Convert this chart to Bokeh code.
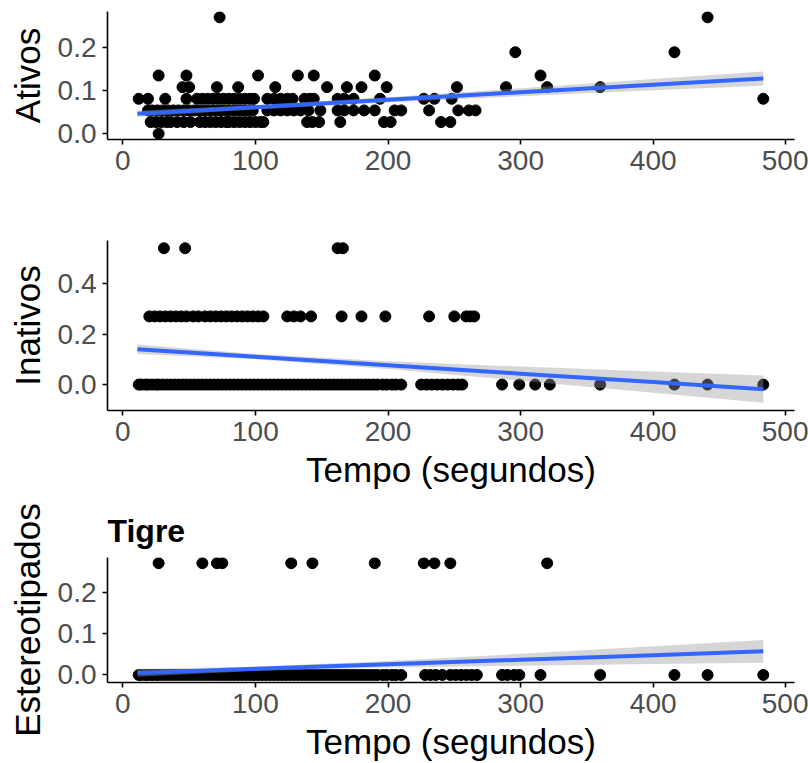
import numpy as np
from bokeh.plotting import figure
from bokeh.layouts import column
from bokeh.models import Range1d, FixedTicker, PrintfTickFormatter
from bokeh.embed import file_html
from bokeh.resources import INLINE

# ---------------- data ----------------
X_TICKS = [0, 100, 200, 300, 400, 500]
X_LABEL = "Tempo (segundos)"
TITLE_3 = "Tigre"

# Panel 1: Ativos  (tempo values grouped by y level)
ATIVOS_LEVELS = [0.0, 0.027, 0.054, 0.081, 0.108, 0.135, 0.189, 0.270]
ativos_tempo = [
    [27],
    [21, 25, 29, 33, 36, 41, 46, 51, 58, 62, 66, 70, 74, 78, 80, 84, 88, 92, 96,
     100, 104, 106, 139, 143, 148, 164, 197, 202, 240, 247],
    [19, 22, 26, 30, 34, 38, 42, 46, 50, 54, 58, 62, 66, 70, 74, 78, 82, 86, 90,
     94, 98, 109, 114, 119, 124, 129, 134, 140, 149, 162, 167, 174, 182, 190,
     205, 210, 231, 253, 261, 266],
    [12, 19, 32, 48, 56, 60, 64, 68, 72, 76, 80, 84, 88, 92, 96, 99, 109, 114,
     119, 124, 128, 137, 141, 144, 162, 167, 174, 194, 227, 235, 248, 483],
    [45, 50, 71, 87, 115, 154, 169, 180, 199, 252, 289, 320, 360],
    [27, 48, 102, 132, 144, 190, 315],
    [296, 416],
    [73, 441],
]
ATIVOS_YTICKS = [0.0, 0.1, 0.2]

# Panel 2: Inativos
INATIVOS_LEVELS = [0.0, 0.27, 0.54]
inativos_tempo = [
    [12, 14, 17, 19, 22, 25, 27, 30, 33, 36, 39, 42, 45, 48, 51, 54, 57, 60,
     63, 66, 69, 72, 75, 78, 81, 84, 87, 90, 93, 96, 99, 102, 105, 108, 111,
     114, 117, 120, 123, 126, 129, 132, 135, 138, 141, 144, 147, 150, 153, 156,
     159, 162, 165, 168, 171, 174, 177, 180, 183, 186, 189, 192, 196, 199, 203,
     206, 210, 225, 229, 233, 237, 241, 245, 249, 253, 256, 286, 299, 311, 322,
     360, 416, 441, 483],
    [20, 24, 28, 32, 36, 40, 44, 48, 53, 57, 62, 66, 70, 74, 78, 82, 86, 90, 94,
     98, 102, 106, 124, 129, 134, 142, 165, 180, 198, 231, 250, 259, 262, 265],
    [31, 47, 162, 166],
]
INATIVOS_YTICKS = [0.0, 0.2, 0.4]

# Panel 3: Estereotipados
ESTEREO_LEVELS = [0.0, 0.27]
estereo_tempo = [
    [12, 14, 17, 19, 22, 25, 27, 30, 33, 36, 39, 42, 45, 48, 51, 54, 57, 60,
     63, 66, 69, 72, 75, 78, 81, 84, 87, 90, 93, 96, 99, 102, 105, 108, 111,
     114, 117, 120, 123, 126, 129, 132, 135, 138, 141, 144, 147, 150, 153, 156,
     159, 162, 165, 168, 171, 174, 177, 180, 183, 186, 189, 192, 196, 199, 203,
     206, 210, 228, 232, 236, 241, 247, 251, 255, 259, 263, 267, 286, 290, 295,
     299, 315, 360, 416, 441, 483],
    [27, 60, 71, 75, 127, 143, 190, 227, 235, 247, 320],
]
ESTEREO_YTICKS = [0.0, 0.1, 0.2]

# Linear trend (lm) and its 95% band at these tempos
FIT_X = [11, 100, 200, 300, 400, 483]
ATIVOS_FIT = [0.046, 0.0613, 0.0787, 0.0961, 0.1136, 0.128]
ATIVOS_LO = [0.039, 0.0562, 0.0726, 0.0868, 0.1005, 0.1115]
ATIVOS_HI = [0.053, 0.0664, 0.0848, 0.1054, 0.1267, 0.1445]

INATIVOS_FIT = [0.140, 0.1105, 0.0769, 0.0434, 0.0098, -0.018]
INATIVOS_LO = [0.1214, 0.1001, 0.0615, 0.0154, -0.0322, -0.072]
INATIVOS_HI = [0.1586, 0.1209, 0.0923, 0.0714, 0.0518, 0.036]

ESTEREO_FIT = [0.005, 0.0147, 0.0258, 0.0368, 0.0478, 0.057]
ESTEREO_LO = [-0.0045, 0.0097, 0.018, 0.0225, 0.0264, 0.0295]
ESTEREO_HI = [0.0145, 0.0197, 0.0336, 0.0511, 0.0692, 0.0845]

FONT = "Liberation Sans"


def flatten(levels, groups):
    xs, ys = [], []
    for lev, g in zip(levels, groups):
        xs.extend(g)
        ys.extend([lev] * len(g))
    return np.array(xs, float), np.array(ys, float)


panels = [
    flatten(ATIVOS_LEVELS, ativos_tempo),
    flatten(INATIVOS_LEVELS, inativos_tempo),
    flatten(ESTEREO_LEVELS, estereo_tempo),
]
all_x = np.concatenate([p[0] for p in panels])
xlo, xhi = all_x.min(), all_x.max()
xpad = 0.05 * (xhi - xlo)


def make_panel(x, y, fit, lo, hi, ylabel, yticks, height, top, bottom,
               xlabel=None, title=None):
    ymin = min(y.min(), min(lo))
    ymax = max(y.max(), max(hi))
    ypad = 0.05 * (ymax - ymin)
    p = figure(width=808, height=height, output_backend="svg",
               toolbar_location=None, title=title,
               x_range=Range1d(xlo - xpad, xhi + xpad),
               y_range=Range1d(ymin - ypad, ymax + ypad),
               min_border_left=107, min_border_right=14,
               min_border_top=top, min_border_bottom=bottom)
    p.scatter(x, y, size=11, color="black")
    p.varea(x=FIT_X, y1=lo, y2=hi, fill_color="#999999", fill_alpha=0.4)
    p.line(FIT_X, fit, line_color="#3366FF", line_width=4)

    p.xgrid.visible = False
    p.ygrid.visible = False
    p.outline_line_color = None
    p.background_fill_color = "white"
    p.border_fill_color = "white"

    for ax in (p.xaxis[0], p.yaxis[0]):
        ax.axis_line_color = "black"
        ax.axis_line_width = 1.6
        ax.major_tick_line_color = "black"
        ax.major_tick_line_width = 1.6
        ax.major_tick_out = 5
        ax.major_tick_in = 0
        ax.minor_tick_line_color = None
        ax.major_label_text_font = FONT
        ax.major_label_text_font_size = "28px"
        ax.major_label_text_color = "#4D4D4D"
        ax.axis_label_text_font = FONT
        ax.axis_label_text_font_size = "35px"
        ax.axis_label_text_font_style = "normal"
        ax.axis_label_text_color = "black"
        ax.major_label_standoff = 6
    p.xaxis[0].axis_label_standoff = 6
    p.yaxis[0].axis_label_standoff = 8

    p.xaxis.ticker = FixedTicker(ticks=X_TICKS)
    p.yaxis.ticker = FixedTicker(ticks=yticks)
    p.yaxis.formatter = PrintfTickFormatter(format="%.1f")
    p.yaxis.axis_label = ylabel
    if xlabel:
        p.xaxis.axis_label = xlabel
    if title is not None:
        p.title.text_font = FONT
        p.title.text_font_size = "32px"
        p.title.text_font_style = "bold"
        p.title.text_color = "black"
        p.title.align = "left"
        p.title.offset = 0
        p.title.standoff = 18
    return p


p1 = make_panel(*panels[0], ATIVOS_FIT, ATIVOS_LO, ATIVOS_HI,
                "Ativos", ATIVOS_YTICKS, 200, 11, 61)
p2 = make_panel(*panels[1], INATIVOS_FIT, INATIVOS_LO, INATIVOS_HI,
                "Inativos", INATIVOS_YTICKS, 300, 40, 90, xlabel=X_LABEL)
p3 = make_panel(*panels[2], ESTEREO_FIT, ESTEREO_LO, ESTEREO_HI,
                "Estereotipados", ESTEREO_YTICKS, 263, 57, 79,
                xlabel=X_LABEL, title=TITLE_3)

layout = column(p1, p2, p3, spacing=0)
open("out.html", "w").write(file_html(layout, INLINE))
